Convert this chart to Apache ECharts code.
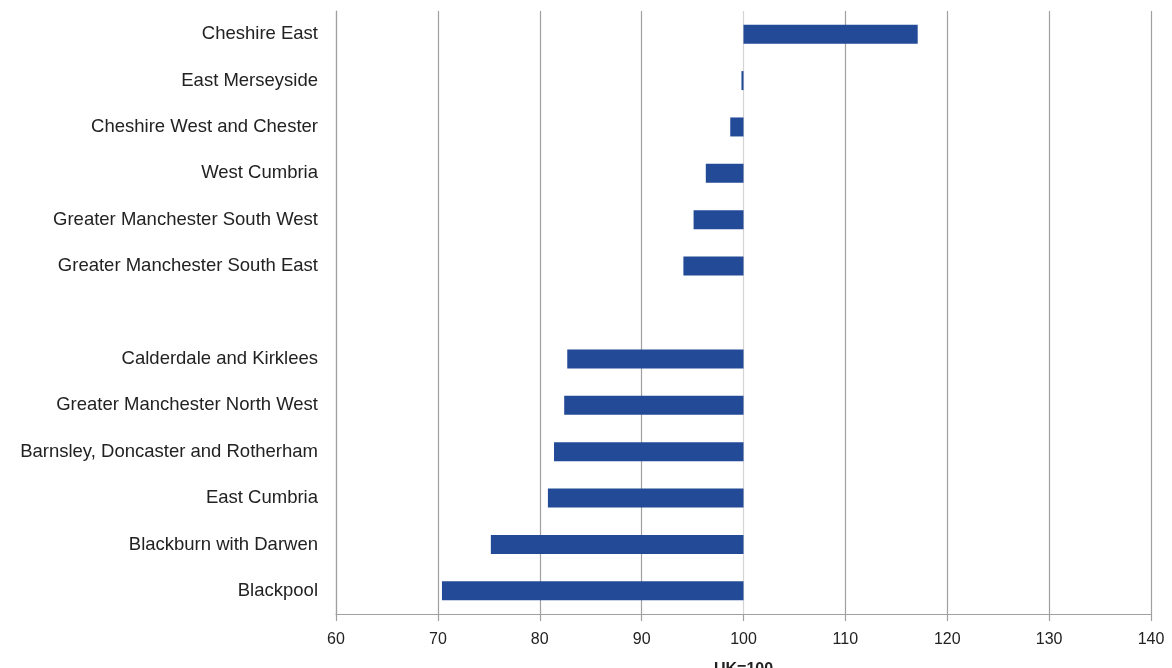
<!DOCTYPE html>
<html><head><meta charset="utf-8">
<script src="https://cdn.jsdelivr.net/npm/echarts@6/dist/echarts.min.js"></script>
<style>html,body{margin:0;padding:0;background:#fff;overflow:hidden}#c{width:1172px;height:668px}</style>
</head><body><div id="c"></div>
<script>
const categories = ['Cheshire East','East Merseyside','Cheshire West and Chester','West Cumbria','Greater Manchester South West','Greater Manchester South East','','Calderdale and Kirklees','Greater Manchester North West','Barnsley, Doncaster and Rotherham','East Cumbria','Blackburn with Darwen','Blackpool'];
const values = [117.1, 99.8, 98.7, 96.3, 95.1, 94.1, null, 82.7, 82.4, 81.4, 80.8, 75.2, 70.4];
const baseline = 100;
const xTicks = [60,70,80,90,100,110,120,130,140];

const base = values.map(v => v == null ? null : Math.min(v, baseline));
const diff = values.map(v => v == null ? null : Math.abs(v - baseline));
const gridColors = xTicks.map(t => t === baseline ? '#d4d4d4' : '#a0a0a0');

const chart = echarts.init(document.getElementById('c'), null, {renderer:'canvas'});
chart.setOption({
  animation:false,
  grid:{left:336, right:21, top:11, bottom:54, containLabel:false, outerBoundsMode:'none'},
  xAxis:{type:'value', min:xTicks[0], max:xTicks[xTicks.length-1], interval:10,
    name:'UK=100', nameLocation:'middle', nameGap:48,
    nameTextStyle:{fontFamily:'Liberation Sans', fontSize:16, fontWeight:'bold', color:'#222'},
    axisLine:{show:true, lineStyle:{color:'#a0a0a0', width:1.2}},
    axisTick:{show:true, inside:false, length:7, lineStyle:{color:'#a0a0a0', width:1.2}},
    axisLabel:{fontFamily:'Liberation Sans', fontSize:16, color:'#222', margin:18},
    splitLine:{show:true, lineStyle:{color:gridColors, width:1.2}}},
  yAxis:{type:'category', data:categories, inverse:true,
    axisLine:{show:true, lineStyle:{color:'#a0a0a0', width:1.2}},
    axisTick:{show:false},
    axisLabel:{fontFamily:'Liberation Sans', fontSize:18.5, color:'#222', margin:18, padding:[3,0,0,0]},
    splitLine:{show:false}},
  series:[
    {type:'bar', stack:'s', data:base, barWidth:19, itemStyle:{color:'rgba(0,0,0,0)'}, silent:true},
    {type:'bar', stack:'s', data:diff, barWidth:19, itemStyle:{color:'#234a97'}}
  ]
});
</script></body></html>
